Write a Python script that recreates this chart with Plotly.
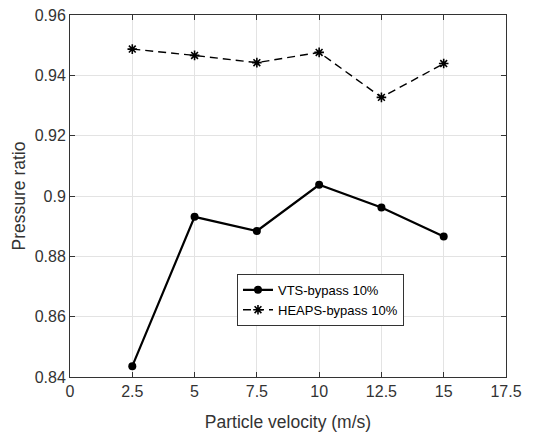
import plotly.graph_objects as go

velocity = [2.5, 5, 7.5, 10, 12.5, 15]
vts = [0.8436, 0.8931, 0.8884, 0.9037, 0.8962, 0.8866]
heaps = [0.9487, 0.9466, 0.9442, 0.9476, 0.9327, 0.9439]

x_ticks = [0, 2.5, 5, 7.5, 10, 12.5, 15, 17.5]
x_tick_labels = ["0", "2.5", "5", "7.5", "10", "12.5", "15", "17.5"]
y_ticks = [0.84, 0.86, 0.88, 0.9, 0.92, 0.94, 0.96]
y_tick_labels = ["0.84", "0.86", "0.88", "0.9", "0.92", "0.94", "0.96"]

FONT = "Liberation Sans, Arial, sans-serif"
fig = go.Figure()
fig.add_trace(go.Scatter(
    x=velocity, y=vts, mode="lines+markers", name="VTS-bypass 10%",
    line=dict(color="black", width=2.2),
    marker=dict(symbol="circle", size=8, color="black"),
))
fig.add_trace(go.Scatter(
    x=velocity, y=heaps, mode="lines+markers", name="HEAPS-bypass 10%",
    line=dict(color="black", width=1.4, dash="8px,5px"),
    marker=dict(symbol="asterisk-open", size=8, color="black", line=dict(color="black", width=1.6)),
))

axis_common = dict(
    showline=True, linecolor="#333333", linewidth=1, mirror="ticks",
    showgrid=True, gridcolor="#e3e3e3", gridwidth=1,
    ticks="inside", ticklen=5, tickcolor="#333333", zeroline=False,
    tickfont=dict(family=FONT, size=16, color="#333333"),
    automargin=False,
)
fig.update_xaxes(
    range=[0, 17.5], tickvals=x_ticks, ticktext=x_tick_labels,
    title=dict(text="Particle velocity (m/s)", font=dict(family=FONT, size=17.5, color="#333333"), standoff=18),
    **axis_common,
)
fig.update_yaxes(
    range=[0.84, 0.96], tickvals=y_ticks, ticktext=y_tick_labels,
    title=dict(text="Pressure ratio", font=dict(family=FONT, size=17.5, color="#333333"), standoff=4),
    **axis_common,
)
fig.update_layout(
    width=544, height=432,
    margin=dict(l=70, r=38, t=15, b=55),
    paper_bgcolor="white", plot_bgcolor="white",
    legend=dict(
        x=0.383, y=0.285, xanchor="left", yanchor="top",
        bgcolor="white", bordercolor="#333333", borderwidth=1,
        font=dict(family=FONT, size=13, color="black"),
        tracegroupgap=0, itemwidth=30,
    ),
    showlegend=True,
)
fig.write_html("out.html")
